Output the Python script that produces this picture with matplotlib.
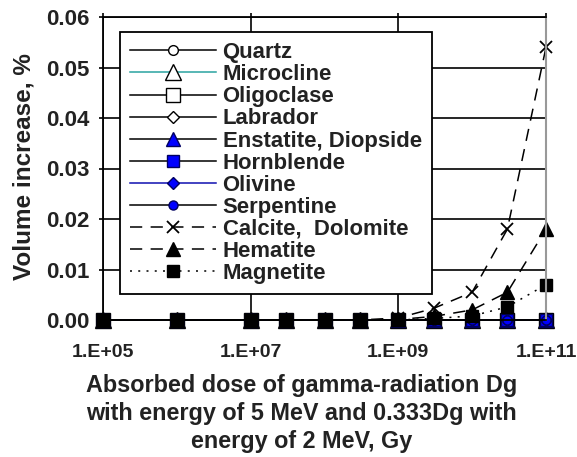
import matplotlib
matplotlib.use("Agg")
import matplotlib.pyplot as plt
from matplotlib.ticker import FixedLocator, NullLocator

plt.rcParams['font.family'] = ['Liberation Sans', 'DejaVu Sans']
plt.rcParams['font.weight'] = 'bold'

# ---- data ----
dose = [1e5, 1e6, 1e7, 3e7, 1e8, 3e8, 1e9, 3e9, 1e10, 3e10, 1e11]
quartz = [0.0] * 11
microcline = [0.0] * 11
oligoclase = [0.0] * 11
labrador = [0.0] * 11
enstatite = [0.0] * 11
hornblende = [0.0] * 11
olivine = [0.0] * 11
serpentine = [0.0] * 11
calcite = [0, 0, 0, 0, 0, 0, 0.0004, 0.0023, 0.0055, 0.018, 0.054]
hematite = [0, 0, 0, 0, 0, 0, 0.0001, 0.0007, 0.002, 0.0055, 0.018]
magnetite = [0, 0, 0, 0, 0, 0, 0.0, 0.0003, 0.0008, 0.0026, 0.007]

names = ["Quartz", "Microcline", "Oligoclase", "Labrador", "Enstatite, Diopside",
         "Hornblende", "Olivine", "Serpentine", "Calcite,  Dolomite", "Hematite", "Magnetite"]
xticks = [1e5, 1e7, 1e9, 1e11]
xticklabels = ["1.E+05", "1.E+07", "1.E+09", "1.E+11"]
yticks = [0.0, 0.01, 0.02, 0.03, 0.04, 0.05, 0.06]

series = [quartz, microcline, oligoclase, labrador, enstatite, hornblende,
          olivine, serpentine, calcite, hematite, magnetite]

blue = '#0000ff'
dash = (0, (8, 5.5))
dots = (0, (1.3, 4.1))
styles = [
    dict(color='black', ls='-', marker='o', mfc='white', mec='black', ms=7),
    dict(color='#2aa3a0', ls='-', marker='^', mfc='white', mec='black', ms=11),
    dict(color='black', ls='-', marker='s', mfc='white', mec='black', ms=10),
    dict(color='black', ls='-', marker='D', mfc='white', mec='black', ms=6.5),
    dict(color='black', ls='-', marker='^', mfc=blue, mec='#000060', ms=10),
    dict(color='black', ls='-', marker='s', mfc=blue, mec='#000060', ms=9),
    dict(color='#1010b0', ls='-', marker='D', mfc=blue, mec='#000060', ms=6.5),
    dict(color='black', ls='-', marker='o', mfc=blue, mec='#000060', ms=6.5),
    dict(color='black', ls=dash, marker='x', mfc='black', mec='black', ms=8.5, mew=1.3),
    dict(color='black', ls=dash, marker='^', mfc='black', mec='black', ms=10),
    dict(color='black', ls=dots, marker='s', mfc='black', mec='black', ms=8.5),
]

W, H = 577, 457
fig = plt.figure(figsize=(W / 100, H / 100), dpi=100)
ax = fig.add_axes([103 / W, 1 - 320 / H, (546 - 103) / W, (320 - 17) / H])

for ys, name, st in zip(series, names, styles):
    ax.plot(dose, ys, label=name, lw=1.1, clip_on=False, **st)

ax.set_xscale('log')
ax.set_xlim(1e5, 1e11)
ax.set_ylim(0, 0.06)
ax.xaxis.set_major_locator(FixedLocator(xticks))
ax.xaxis.set_minor_locator(NullLocator())
ax.set_xticklabels(xticklabels)
ax.set_yticks(yticks)
ax.set_yticklabels([f"{v:.2f}" for v in yticks])
ax.tick_params(axis='both', direction='out', length=3, width=1.2, colors='black')
ax.tick_params(axis='x', top=True, pad=14.5, labelsize=14)
ax.tick_params(axis='y', pad=7, labelsize=16)
for lab in ax.get_xticklabels() + ax.get_yticklabels():
    lab.set_fontweight('bold')
    lab.set_color('#222222')

ax.grid(True, which='major', color='black', lw=1.2)
ax.set_axisbelow(True)
for s in ['left', 'top', 'bottom']:
    ax.spines[s].set_color('black')
    ax.spines[s].set_linewidth(1.3)
ax.spines['right'].set_color('#999999')
ax.spines['right'].set_linewidth(1.5)

ax.set_ylabel("Volume increase, %", fontsize=17.5, fontweight='bold', color='#222222')
ax.yaxis.set_label_coords(-0.153, 0.505)
ax.set_xlabel("Absorbed dose of gamma-radiation Dg\nwith energy of 5 MeV and 0.333Dg with\nenergy of 2 MeV, Gy",
              fontsize=16.8, fontweight='bold', color='#222222', linespacing=1.3)
ax.xaxis.set_label_coords(0.449, -0.177)

leg = ax.legend(loc='upper left', bbox_to_anchor=(0.038, 0.95), fontsize=15.9,
                frameon=True, fancybox=False, edgecolor='black', framealpha=1,
                handlelength=3.9, handletextpad=0.3, borderpad=0.45, labelspacing=0.05,
                borderaxespad=0)
leg.get_frame().set_linewidth(1.3)
for t in leg.get_texts():
    t.set_fontweight('bold')
    t.set_color('#222222')

fig.savefig("out.png", dpi=100)
